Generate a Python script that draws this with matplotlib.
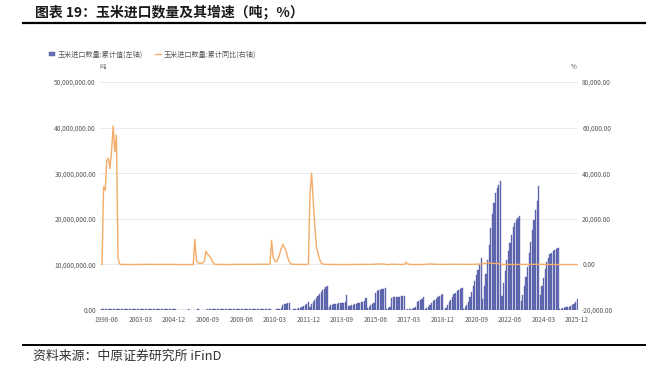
import matplotlib
matplotlib.use("Agg")
import matplotlib.pyplot as plt
from matplotlib.lines import Line2D
from matplotlib.patches import Patch
import numpy as np

plt.rcParams['font.family'] = ['Noto Sans CJK SC', 'DejaVu Sans']

# ---------------- data ----------------
# category labels (early period is sparse, then monthly from 2003-01)
pre_labels = ['1998-03', '1998-04', '1998-05', '1998-06', '1998-09', '1998-12',
              '1999-03', '1999-06', '1999-09', '1999-12', '2000-03', '2000-06',
              '2000-09', '2000-12', '2001-03', '2001-06', '2001-09', '2001-12',
              '2002-03', '2002-06', '2002-09', '2002-12']
years = list(range(2003, 2026))

# cumulative import volume, 10k tons
bars_pre = [15, 15, 15, 15, 15, 15, 15, 15, 15, 15, 15, 15, 15, 15, 15, 15, 15, 15, 15, 15, 15, 15]
bars_by_year = {
    2003: [15, 15, 15, 15, 15, 15, 15, 15, 15, 15, 15, 15],
    2004: [15, 15, 15, 15, 15, 15, 15, 15, 15, 15, 15, 15],
    2005: [15, 0, 0, 0, 0, 0, 0, 0, 15, 0, 0, 0],
    2006: [0, 0, 15, 0, 0, 0, 0, 0, 25, 25, 25, 25],
    2007: [25, 25, 25, 25, 25, 25, 25, 25, 25, 25, 25, 25],
    2008: [25, 25, 25, 25, 25, 25, 25, 25, 25, 25, 25, 25],
    2009: [25, 25, 25, 25, 25, 25, 25, 25, 25, 25, 25, 25],
    2010: [5, 8, 10, 12, 14, 20, 40, 120, 130, 135, 150, 157],
    2011: [5, 10, 15, 20, 25, 35, 45, 60, 80, 100, 130, 175],
    2012: [75, 125, 185, 225, 265, 310, 345, 390, 430, 465, 495, 520],
    2013: [60, 100, 115, 125, 130, 140, 145, 150, 155, 160, 170, 327],
    2014: [80, 95, 105, 115, 125, 135, 145, 155, 165, 175, 190, 260],
    2015: [40, 70, 100, 130, 160, 370, 410, 430, 440, 450, 460, 473],
    2016: [20, 45, 75, 265, 275, 280, 285, 290, 295, 300, 305, 317],
    2017: [10, 15, 20, 25, 30, 40, 60, 170, 195, 215, 240, 283],
    2018: [15, 35, 60, 110, 150, 190, 220, 250, 280, 300, 320, 352],
    2019: [10, 50, 110, 180, 230, 290, 340, 380, 420, 440, 460, 479],
    2020: [30, 60, 110, 180, 290, 400, 520, 640, 760, 880, 1000, 1130],
    2021: [250, 530, 780, 1100, 1420, 1800, 2100, 2350, 2560, 2675, 2750, 2835],
    2022: [300, 600, 850, 1100, 1300, 1470, 1650, 1830, 1900, 1970, 2010, 2062],
    2023: [200, 330, 520, 730, 950, 1250, 1500, 1750, 1980, 2200, 2394, 2713],
    2024: [330, 520, 700, 900, 1050, 1150, 1220, 1260, 1290, 1310, 1330, 1364],
    2025: [20, 30, 40, 45, 55, 65, 75, 90, 110, 130, 170, 250],
}

# cumulative YoY, %
yoy_pre = [0, 34000, 32500, 45500, 46500, 42000, 50000, 60700, 49400, 56700, 3000,
           200, -40, -50, -60, -70, -60, -50, -40, -30, -50, -60]
yoy_by_year = {
    2003: [-60, -40, -20, 0, 10, 20, 10, 0, -10, -20, -30, -40],
    2004: [-30, -20, -10, 0, 10, 0, -10, -20, -30, -20, -10, 0],
    2005: [-50, -60, -70, -80, -80, -70, -60, -50, -40, -50, -60, -70],
    2006: [11000, 1800, 600, 600, 500, 600, 1500, 5800, 4500, 3800, 2800, 1200],
    2007: [300, 50, 0, -20, -30, -40, -50, -50, -60, -60, -60, -60],
    2008: [-20, 0, 20, 40, 50, 40, 30, 20, 10, 0, -10, -20],
    2009: [0, 20, 40, 60, 80, 70, 60, 50, 40, 60, 80, 100],
    2010: [10500, 3000, 1500, 1000, 2500, 4500, 7000, 8800, 7500, 6000, 3200, 1200],
    2011: [300, 50, 20, 10, 0, -10, -20, -30, -30, -20, -10, 200],
    2012: [31000, 40000, 28000, 17000, 8000, 4800, 2300, 600, 200, 50, 20, 10],
    2013: [-60, -30, -20, -30, -40, -50, -50, -55, -60, -60, -60, -40],
    2014: [20, -10, -20, -10, -10, -10, -10, -10, -10, -5, 0, -20],
    2015: [-50, -30, -10, 10, 30, 180, 190, 180, 170, 160, 150, 80],
    2016: [-40, -30, -20, 100, 70, 40, 20, 10, 0, -10, -20, -30],
    2017: [1000, 200, 50, -50, -60, -70, -70, -40, -30, -25, -20, -10],
    2018: [60, 120, 80, 200, 150, 100, 80, 30, 30, 30, 30, 25],
    2019: [-30, 40, 80, 60, 50, 50, 50, 50, 50, 45, 40, 35],
    2020: [100, 30, 0, -20, 20, 40, 50, 60, 80, 100, 120, 135],
    2021: [300, 400, 600, 700, 600, 500, 450, 400, 350, 330, 300, 150],
    2022: [-10, -30, -30, -40, -30, -25, -25, -25, -25, -25, -27, -27],
    2023: [-50, -40, -30, -20, -10, 0, 10, 20, 20, 25, 25, 30],
    2024: [30, 10, -20, -30, -40, -45, -50, -50, -55, -55, -55, -50],
    2025: [-90, -95, -95, -95, -95, -95, -94, -93, -92, -90, -90, -82],
}

tick_labels = ['1998-06', '2003-03', '2004-12', '2006-09', '2008-06', '2010-03',
               '2011-12', '2013-09', '2015-06', '2017-03', '2018-12', '2020-09',
               '2022-06', '2024-03', '2025-12']
left_ticks = [0, 10000000, 20000000, 30000000, 40000000, 50000000]
right_ticks = [-20000, 0, 20000, 40000, 60000, 80000]

series_bar = '玉米进口数量:累计值(左轴)'
series_line = '玉米进口数量:累计同比(右轴)'
title = '图表 19：玉米进口数量及其增速（吨；%）'
source = '资料来源：中原证券研究所 iFinD'

# ---------------- assemble ----------------
categories = pre_labels + [f'{y}-{m:02d}' for y in years for m in range(1, 13)]
bar_vals = np.array(bars_pre + [v for y in years for v in bars_by_year[y]], float) * 1e4
yoy_vals = np.array(yoy_pre + [v for y in years for v in yoy_by_year[y]], float)
x = np.arange(len(categories))
tick_pos = [categories.index(t) for t in tick_labels]

W, H = 667, 368
fig = plt.figure(figsize=(W / 100, H / 100), dpi=100)
ax = fig.add_axes([100 / W, 1 - 310 / H, 478 / W, 228 / H])

BAR = '#6870b6'
BAR_EDGE = '#4a529d'
LINE = '#f5ac68'
TXT = '#595959'

ax.bar(x, bar_vals, width=0.72, color=BAR, edgecolor=BAR_EDGE, linewidth=0.25, zorder=2)
ax.set_ylim(0, 50000000)
ax.set_yticks(left_ticks)
ax.set_yticklabels([f'{v:,.2f}' for v in left_ticks])
ax.set_xlim(-1.25, len(categories) - 0.5)
ax.set_xticks(tick_pos)
ax.set_xticklabels(tick_labels)
ax.grid(axis='y', color='#e8e8e8', linewidth=0.6, zorder=0)
ax.set_axisbelow(True)
for s in ax.spines.values():
    s.set_visible(False)
ax.tick_params(axis='both', length=0, labelsize=4.7, colors=TXT)
ax.tick_params(axis='x', pad=4)
ax.tick_params(axis='y', pad=3)

ax2 = ax.twinx()
ax2.plot(x, yoy_vals, color=LINE, linewidth=1.0, zorder=3)
ax2.set_ylim(-20000, 80000)
ax2.set_yticks(right_ticks)
ax2.set_yticklabels([f'{v:,.2f}' for v in right_ticks])
for s in ax2.spines.values():
    s.set_visible(False)
ax2.tick_params(axis='y', length=0, labelsize=4.7, colors=TXT, pad=3)

# units
fig.text(103 / W, 1 - 67 / H, '吨', fontsize=4.6, color=TXT, ha='center', va='center')
fig.text(574 / W, 1 - 67 / H, '%', fontsize=4.6, color=TXT, ha='center', va='center')

# legend
handles = [Patch(facecolor=BAR, edgecolor=BAR_EDGE, linewidth=0.3, label=series_bar),
           Line2D([0], [0], color=LINE, linewidth=1.0, label=series_line)]
fig.legend(handles=handles, loc='center left', bbox_to_anchor=(49 / W, 1 - 54.5 / H),
           ncol=2, frameon=False, fontsize=5.1, labelcolor=TXT, handlelength=0.8,
           handleheight=0.4, handletextpad=0.35, columnspacing=1.8, borderaxespad=0,
           borderpad=0)

# title, rules, source
fig.text(35 / W, 1 - 12 / H, title, fontsize=10, fontweight='bold', ha='left', va='center',
         color='#1a1a1a')
fig.add_artist(Line2D([23 / W, 645 / W], [1 - 23 / H, 1 - 23 / H], color='black', linewidth=1.6))
fig.add_artist(Line2D([23 / W, 645 / W], [1 - 345 / H, 1 - 345 / H], color='black', linewidth=1.4))
fig.text(33 / W, 1 - 356 / H, source, fontsize=9.3, ha='left', va='center', color='#333333')

fig.savefig('out.png', dpi=100)
